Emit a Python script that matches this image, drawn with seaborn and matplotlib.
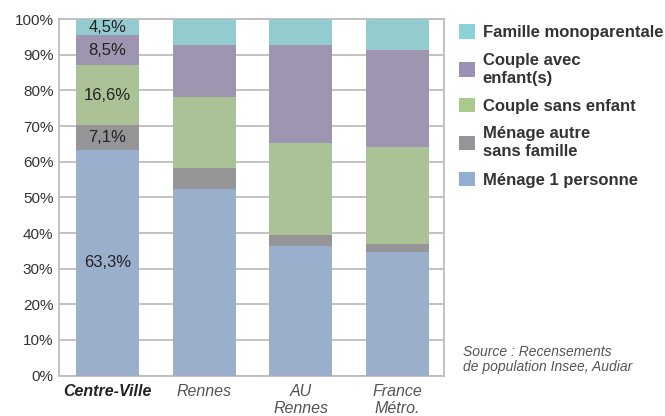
import matplotlib
matplotlib.use("Agg")
import matplotlib.pyplot as plt
import numpy as np
import pandas as pd
import seaborn as sns
from matplotlib.patches import Patch

# --- data (share of households, %) ---
territoires = ["Centre-Ville", "Rennes", "AU\nRennes", "France\nMétro."]
menage_1_personne = [63.3, 52.3, 36.4, 34.6]
menage_autre = [7.1, 6.0, 3.0, 2.4]
couple_sans_enfant = [16.6, 19.8, 25.8, 27.1]
couple_avec_enfants = [8.5, 14.6, 27.5, 27.3]
famille_monoparentale = [4.5, 7.3, 7.3, 8.6]

series_names = ["Ménage 1 personne", "Ménage autre\nsans famille", "Couple sans enfant",
                "Couple avec\nenfant(s)", "Famille monoparentale"]
series_values = [menage_1_personne, menage_autre, couple_sans_enfant,
                 couple_avec_enfants, famille_monoparentale]
colors = ["#92aed3", "#949599", "#a9c98d", "#9c90b6", "#8ad3d8"]

centre_labels = ["63,3%", "7,1%", "16,6%", "8,5%", "4,5%"]

sns.set_theme(style="white")
plt.rcParams["font.family"] = ["Liberation Sans Narrow", "Liberation Sans", "DejaVu Sans"]

fig = plt.figure(figsize=(6.65, 4.16), dpi=100)
ax = fig.add_axes([0.0887, 0.097, 0.579, 0.857])

bottom = np.zeros(len(territoires))
for name, vals, col in zip(series_names, series_values, colors):
    df = pd.DataFrame({"territoire": territoires, "value": vals})
    sns.barplot(data=df, x="territoire", y="value", order=territoires, color=col,
                bottom=bottom, width=0.65, ax=ax, linewidth=0, zorder=3)
    bottom = bottom + np.array(vals)

# labels for Centre-Ville bar
cum = 0
for vals, lab in zip(series_values, centre_labels):
    v = vals[0]
    ax.text(0, cum + v / 2, lab, ha="center", va="center", fontsize=12,
            color="#222222", zorder=5)
    cum += v

ax.set_ylim(0, 100)
ax.set_xlim(-0.5, 3.48)
ax.set_yticks(np.arange(0, 101, 10))
ax.set_yticklabels([f"{t}%" for t in range(0, 101, 10)], fontsize=11, color="#333333")
ax.yaxis.grid(True, color="#bdbdbd", linewidth=1.3, zorder=0)
ax.set_axisbelow(True)
ax.set_xlabel("")
ax.set_ylabel("")
ax.tick_params(axis="y", length=0, pad=4)
ax.tick_params(axis="x", length=0, pad=6)
for sp in ax.spines.values():
    sp.set_color("#bdbdbd")
    sp.set_linewidth(1.3)

ax.set_xticks(range(len(territoires)))
ax.set_xticklabels(territoires, fontsize=11.5, style="italic", color="#555555",
                   linespacing=1.2)
first = ax.get_xticklabels()[0]
first.set_color("#222222")
first.set_fontweight("bold")

# legend (top series first)
handles = [Patch(facecolor=c, edgecolor="none") for c in colors[::-1]]
leg = fig.legend(handles, series_names[::-1], loc="upper left",
                 bbox_to_anchor=(0.668, 0.978), frameon=False,
                 handlelength=0.95, handleheight=0.95, handletextpad=0.45,
                 labelspacing=0.75, prop={"weight": "bold", "size": 12})
for t in leg.get_texts():
    t.set_color("#333333")
    t.set_linespacing(1.25)

fig.text(0.696, 0.17, "Source : Recensements\nde population Insee, Audiar",
         fontsize=10, style="italic", color="#555555", va="top", linespacing=1.1)

fig.savefig("out.png", dpi=100)
